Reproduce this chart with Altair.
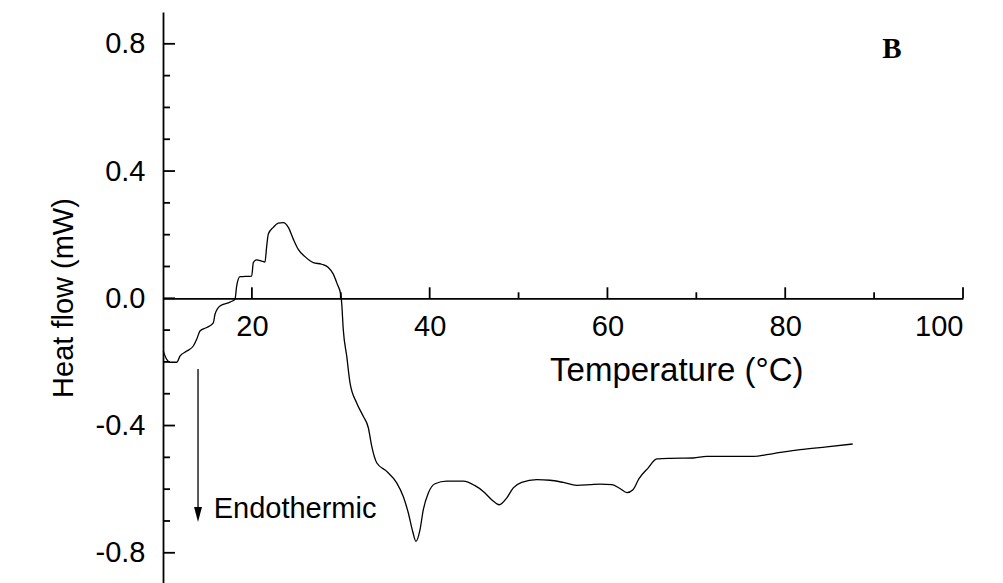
import altair as alt
import pandas as pd

# DSC trace: temperature (°C) and heat flow (mW)
temperature = [
    10.03, 10.42, 10.79, 11.54, 11.91, 12.67, 13.41, 13.79, 14.16, 14.92,
    15.66, 15.85, 16.41, 17.54, 18.10, 18.29, 18.66, 19.98, 20.16, 20.54,
    21.10, 21.47, 21.67, 21.85, 22.41, 22.97, 23.53, 24.10, 24.66, 25.22,
    25.97, 26.91, 27.85, 28.60, 29.16, 29.61, 29.99, 30.10, 30.28, 30.67,
    31.04, 31.79, 32.53, 33.10, 33.48, 34.04, 35.17, 36.29, 37.03, 37.60,
    38.09, 38.46, 38.91, 39.28, 39.85, 40.60, 41.92, 43.78, 45.10, 46.03,
    46.98, 47.83, 48.66, 49.41, 50.35, 52.04, 53.54, 55.03, 56.54, 58.04,
    59.16, 60.51, 61.41, 62.20, 62.87, 63.55, 64.59, 65.54, 67.03, 69.66,
    71.16, 73.41, 76.41, 78.66, 81.66, 84.66, 87.59,
]
heat_flow = [
    -0.166, -0.192, -0.201, -0.201, -0.182, -0.166, -0.150, -0.129, -0.103, -0.092,
    -0.077, -0.050, -0.024, -0.012, -0.003, 0.039, 0.068, 0.070, 0.112, 0.121,
    0.117, 0.114, 0.165, 0.202, 0.223, 0.236, 0.238, 0.223, 0.186, 0.154,
    0.131, 0.112, 0.107, 0.097, 0.076, 0.044, 0.013, -0.014, -0.098, -0.182,
    -0.266, -0.329, -0.371, -0.407, -0.465, -0.517, -0.544, -0.580, -0.623, -0.675,
    -0.733, -0.764, -0.728, -0.665, -0.612, -0.583, -0.575, -0.575, -0.589, -0.607,
    -0.633, -0.649, -0.628, -0.596, -0.579, -0.570, -0.572, -0.579, -0.588, -0.586,
    -0.584, -0.586, -0.598, -0.611, -0.602, -0.567, -0.533, -0.505, -0.503, -0.502,
    -0.497, -0.497, -0.497, -0.488, -0.476, -0.467, -0.458,
]

x_major = [20, 40, 60, 80, 100]
x_minor = [30, 50, 70, 90]
y_major = [-0.8, -0.4, 0.0, 0.4, 0.8]
y_minor = [-0.7, -0.6, -0.5, -0.3, -0.2, -0.1, 0.1, 0.2, 0.3, 0.5, 0.6, 0.7]

FONT = "Liberation Sans"
X_DOMAIN = [10, 100]
Y_DOMAIN = [-0.895, 0.9]
W, H = 800, 571

trace = pd.DataFrame({"T": temperature, "hf": heat_flow, "i": range(len(temperature))})

xs = alt.Scale(domain=X_DOMAIN, nice=False, zero=False)
ys = alt.Scale(domain=Y_DOMAIN, nice=False, zero=False)

# pixel distance from the bottom of the plot to the zero line
zero_from_bottom = (0 - Y_DOMAIN[0]) / (Y_DOMAIN[1] - Y_DOMAIN[0]) * H

line = alt.Chart(trace).mark_line(color="black", strokeWidth=1.3, interpolate="monotone").encode(
    x=alt.X("T:Q", scale=xs,
            axis=alt.Axis(values=x_major, format="d", orient="bottom", offset=-zero_from_bottom,
                          ticks=False, tickSize=0, grid=False, labelPadding=14.5,
                          labelFontSize=29, labelFont=FONT, labelColor="black",
                          domainColor="black", domainWidth=1.8, title=None)),
    y=alt.Y("hf:Q", scale=ys,
            axis=alt.Axis(values=y_major, orient="left", ticks=False, tickSize=0, grid=False,
                          labelExpr="(datum.value < 0 ? '-' : '') + format(abs(datum.value), '.1f')",
                          labelPadding=18, labelFontSize=29, labelFont=FONT, labelColor="black",
                          domainColor="black", domainWidth=1.8,
                          title="Heat flow (mW)", titleFont=FONT, titleFontSize=29,
                          titleFontWeight="normal", titleColor="black",
                          titleX=-100, titleY=H / 2, titleBaseline="middle", titleAngle=270)),
    order="i:Q",
)

def x_ticks(values, length):
    df = pd.DataFrame({"v": values})
    return alt.Chart(df).mark_rule(color="black", strokeWidth=1.8, y2Offset=-length).encode(
        x=alt.X("v:Q", scale=xs), y=alt.datum(0, scale=ys), y2=alt.datum(0))

def y_ticks(values, length):
    df = pd.DataFrame({"v": values})
    return alt.Chart(df).mark_rule(color="black", strokeWidth=1.8, x2Offset=length).encode(
        y=alt.Y("v:Q", scale=ys), x=alt.datum(X_DOMAIN[0], scale=xs), x2=alt.datum(X_DOMAIN[0]))

x_title = alt.Chart().mark_text(text="Temperature (°C)", font=FONT, fontSize=33, color="black",
                                align="center", baseline="alphabetic").encode(
    x=alt.datum(67.8, scale=xs), y=alt.datum(-0.259, scale=ys))

panel_tag = alt.Chart().mark_text(text="B", font="Liberation Serif", fontWeight="bold", fontSize=29,
                                  color="black", align="center", baseline="alphabetic").encode(
    x=alt.datum(92.0, scale=xs), y=alt.datum(0.756, scale=ys))

arrow_shaft = alt.Chart().mark_rule(color="black", strokeWidth=1.3).encode(
    x=alt.datum(13.94, scale=xs), y=alt.datum(-0.222, scale=ys), y2=alt.datum(-0.66))

arrow_head = alt.Chart().mark_point(shape="M -0.53 -1 L 0.53 -1 L 0 1 Z", size=225, filled=True,
                                    color="black", opacity=1, yOffset=-7.5).encode(
    x=alt.datum(13.94, scale=xs), y=alt.datum(-0.703, scale=ys))

endo = alt.Chart().mark_text(text="Endothermic", font=FONT, fontSize=29, color="black",
                             align="left", baseline="alphabetic").encode(
    x=alt.datum(15.7, scale=xs), y=alt.datum(-0.69, scale=ys))

chart = alt.layer(
    line,
    x_ticks(x_major, 11), x_ticks(x_minor, 6),
    y_ticks(y_major, 12), y_ticks(y_minor, 7),
    x_title, panel_tag, arrow_shaft, arrow_head, endo,
).properties(
    width=W, height=H,
    background="white",
    autosize=alt.AutoSizeParams(type="none"),
    padding={"left": 163, "top": 12, "right": 40, "bottom": 0},
).configure_view(strokeWidth=0)

chart.save("out.html", embed_options={"renderer": "svg", "actions": False})
